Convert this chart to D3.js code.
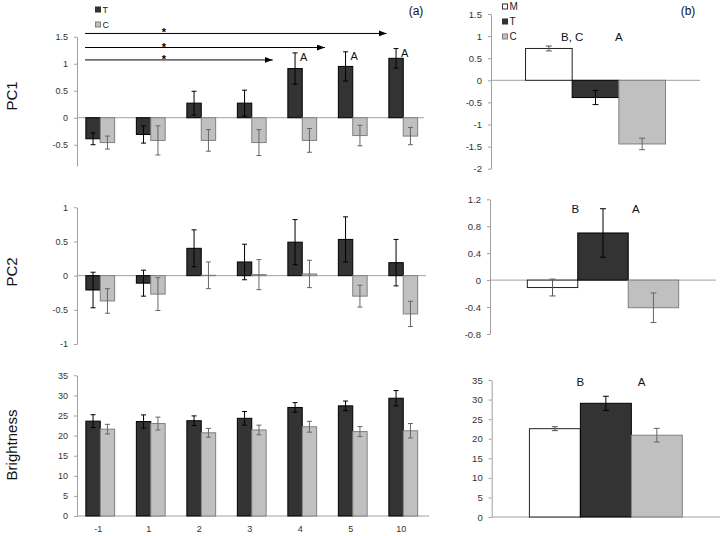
<!DOCTYPE html>
<html>
<head>
<meta charset="utf-8">
<script src="https://cdn.jsdelivr.net/npm/d3@7"></script>
<style>
  body { margin: 0; background: #fff; }
  svg { display: block; font-family: "Liberation Sans", Arial, sans-serif; }
</style>
</head>
<body>
<svg id="chart" width="724" height="536"></svg>
<script>
// ---- data ----
const days = ['-1', '1', '2', '3', '4', '5', '10'];
const groups = ['T', 'C'];
const pooled = ['M', 'T', 'C'];

const pc1T = [-0.39, -0.31, 0.27, 0.27, 0.91, 0.95, 1.10];
const pc1TErr = [0.11, 0.16, 0.22, 0.24, 0.29, 0.27, 0.18];
const pc1C = [-0.46, -0.42, -0.42, -0.46, -0.42, -0.33, -0.34];
const pc1CErr = [0.12, 0.27, 0.20, 0.24, 0.22, 0.19, 0.16];

const pc2T = [-0.21, -0.11, 0.40, 0.20, 0.49, 0.53, 0.19];
const pc2TErr = [0.26, 0.19, 0.27, 0.26, 0.33, 0.33, 0.34];
const pc2C = [-0.37, -0.27, 0.005, 0.015, 0.025, -0.30, -0.56];
const pc2CErr = [0.18, 0.24, 0.195, 0.22, 0.20, 0.16, 0.185];

const brT = [23.6, 23.5, 23.7, 24.3, 27.0, 27.4, 29.3];
const brTErr = [1.6, 1.65, 1.2, 1.7, 1.2, 1.2, 1.9];
const brC = [21.6, 23.0, 20.7, 21.4, 22.2, 21.0, 21.2];
const brCErr = [1.2, 1.6, 1.1, 1.2, 1.35, 1.25, 1.8];

const pc1Pool = [0.72, -0.39, -1.44];
const pc1PoolErr = [0.055, 0.16, 0.13];
const pc2Pool = [-0.11, 0.70, -0.41];
const pc2PoolErr = [0.125, 0.36, 0.22];
const brPool = [22.56, 29.05, 20.9];
const brPoolErr = [0.5, 1.8, 1.75];

const pc1Ticks = [-0.5, 0, 0.5, 1, 1.5];
const pc2Ticks = [-1, -0.5, 0, 0.5, 1];
const brTicks = [0, 5, 10, 15, 20, 25, 30, 35];
const pc1PoolTicks = [-2, -1.5, -1, -0.5, 0, 0.5, 1, 1.5];
const pc2PoolTicks = [-0.8, -0.4, 0, 0.4, 0.8, 1.2];

// significance arrows in PC1 (a): level, start / end in day-index units
const arrowY = [1.56, 1.30, 1.07];
const arrowFrom = [-0.30, -0.30, -0.30];
const arrowTo = [5.67, 4.45, 3.415];
const starAt = 1.26;
const pc1Letters = ['4', '5', '10'];

// letters in (b): label, position in bar units, value
const pc1PoolLetters = [['B, C', 1.0, 0.89], ['A', 2.0, 0.89]];
const pc2PoolLetters = [['B', 0.95, 1.0], ['A', 2.15, 1.0]];
const brPoolLetters = [['B', 1.0, 33.5], ['A', 2.2, 33.5]];

// ---- styles ----
const fill = { M: '#ffffff', T: '#333333', C: '#c0c0c0' };
const edge = { M: '#222222', T: '#000000', C: '#808080' };
const errCol = { M: '#555555', T: '#000000', C: '#666666' };
const axisCol = '#a0a0a0';

const svg = d3.select('#chart');

const x0 = d3.scaleBand().domain(days).range([75, 428.5]);
const x1 = d3.scaleBand().domain(groups)
  .range([x0.bandwidth() * 0.215, x0.bandwidth() * 0.785]);
const xi = d3.scaleLinear().domain([-0.5, 6.5]).range([75, 428.5]);

function yAxis(g, y, ticks, xPos, size) {
  const ax = g.append('g')
    .attr('transform', `translate(${xPos},0)`)
    .call(d3.axisLeft(y).tickValues(ticks).tickSize(3).tickSizeOuter(0).tickPadding(6)
      .tickFormat(d => String(d)));
  ax.select('.domain').attr('stroke', axisCol);
  ax.selectAll('.tick line').attr('stroke', axisCol);
  ax.selectAll('.tick text').attr('fill', '#333').style('font-size', size + 'px')
    .style('font-family', '"Liberation Sans", Arial, sans-serif');
  return ax;
}

function errBars(g, xs, vals, errs, y, color, cap) {
  g.selectAll(null).data(vals).join('path')
    .attr('d', (v, i) => {
      const cx = xs(i), t = y(v + errs[i]), b = y(v - errs[i]);
      return `M${cx},${t}V${b}M${cx - cap},${t}H${cx + cap}M${cx - cap},${b}H${cx + cap}`;
    })
    .attr('fill', 'none').attr('stroke', color).attr('stroke-width', 1);
}

function leftPanel(cfg) {
  const y = d3.scaleLinear().domain(cfg.domain).range(cfg.range);
  const g = svg.append('g');
  g.append('line').attr('x1', 77).attr('x2', cfg.right)
    .attr('y1', y(0)).attr('y2', y(0)).attr('stroke', axisCol);
  yAxis(g, y, cfg.ticks, 77, 9);
  groups.forEach(k => {
    const [vals, errs] = cfg.series[k];
    g.selectAll(null).data(days).join('rect')
      .attr('x', d => x0(d) + x1(k))
      .attr('width', x1.bandwidth())
      .attr('y', (d, i) => y(Math.max(0, vals[i])))
      .attr('height', (d, i) => Math.abs(y(vals[i]) - y(0)))
      .attr('fill', fill[k]).attr('stroke', edge[k]);
  });
  groups.forEach(k => {
    const [vals, errs] = cfg.series[k];
    errBars(g, i => x0(days[i]) + x1(k) + x1.bandwidth() / 2, vals, errs, y, errCol[k], 2.5);
  });
  g.append('text')
    .attr('transform', `translate(17,${cfg.titleY}) rotate(-90)`)
    .attr('text-anchor', 'middle').attr('fill', '#111')
    .style('font-size', '15px').text(cfg.title);
  return { g, y };
}

function rightPanel(cfg) {
  const y = d3.scaleLinear().domain(cfg.domain).range(cfg.range);
  const xb = d3.scaleBand().domain(pooled).range([cfg.left, cfg.right])
    .paddingInner(0).paddingOuter(0.74);
  const xu = d3.scaleLinear().domain([0, 3]).range([xb('M'), xb('C') + xb.bandwidth()]);
  const g = svg.append('g');
  g.append('line').attr('x1', cfg.left).attr('x2', cfg.right)
    .attr('y1', y(0)).attr('y2', y(0)).attr('stroke', axisCol);
  yAxis(g, y, cfg.ticks, cfg.left, 9.5);
  g.selectAll(null).data(pooled).join('rect')
    .attr('x', d => xb(d)).attr('width', xb.bandwidth())
    .attr('y', (d, i) => y(Math.max(0, cfg.vals[i])))
    .attr('height', (d, i) => Math.abs(y(cfg.vals[i]) - y(0)))
    .attr('fill', d => fill[d]).attr('stroke', d => edge[d]);
  pooled.forEach((k, i) => {
    errBars(g, () => xb(k) + xb.bandwidth() / 2, [cfg.vals[i]], [cfg.errs[i]], y, errCol[k], 3);
  });
  g.selectAll(null).data(cfg.letters).join('text')
    .attr('x', d => xu(d[1])).attr('y', d => y(d[2]))
    .attr('text-anchor', 'middle').attr('fill', '#111')
    .style('font-size', '11.5px').text(d => d[0]);
  return { g, y };
}

// ---- (a) panels ----
const p1 = leftPanel({
  domain: [-0.89, 1.5], range: [165.8, 36.7], ticks: pc1Ticks, right: 424,
  series: { T: [pc1T, pc1TErr], C: [pc1C, pc1CErr] }, title: 'PC1', titleY: 96
});
leftPanel({
  domain: [-1, 1], range: [344, 207.3], ticks: pc2Ticks, right: 426,
  series: { T: [pc2T, pc2TErr], C: [pc2C, pc2CErr] }, title: 'PC2', titleY: 272
});
const p3 = leftPanel({
  domain: [0, 35], range: [516, 375.3], ticks: brTicks, right: 429,
  series: { T: [brT, brTErr], C: [brC, brCErr] }, title: 'Brightness', titleY: 445
});

// x labels under the bottom panel
const xa = p3.g.append('g').attr('transform', 'translate(-2,516)')
  .call(d3.axisBottom(x0).tickSize(0).tickPadding(10));
xa.select('.domain').remove();
xa.selectAll('.tick text').attr('fill', '#333').style('font-size', '9px')
  .style('font-family', '"Liberation Sans", Arial, sans-serif');

// arrows and stars
svg.append('defs').append('marker')
  .attr('id', 'head').attr('viewBox', '0 0 8 6').attr('refX', 8).attr('refY', 3)
  .attr('markerWidth', 8).attr('markerHeight', 6).attr('markerUnits', 'userSpaceOnUse')
  .attr('orient', 'auto')
  .append('path').attr('d', 'M0,0L8,3L0,6Z').attr('fill', '#000');

arrowY.forEach((v, i) => {
  p1.g.append('line')
    .attr('x1', xi(arrowFrom[i])).attr('x2', xi(arrowTo[i]))
    .attr('y1', p1.y(v)).attr('y2', p1.y(v))
    .attr('stroke', '#000').attr('marker-end', 'url(#head)');
  p1.g.append('text').attr('x', xi(starAt)).attr('y', p1.y(v) + 3)
    .attr('text-anchor', 'middle').attr('fill', '#000')
    .style('font-size', '11px').style('font-weight', 'bold').text('*');
});

pc1Letters.forEach(d => {
  const i = days.indexOf(d);
  p1.g.append('text')
    .attr('x', x0(d) + x1('T') + x1.bandwidth() / 2 + 5)
    .attr('y', p1.y(pc1T[i] + pc1TErr[i]) + 8)
    .attr('fill', '#111').style('font-size', '11px').text('A');
});

// ---- (b) panels ----
rightPanel({
  domain: [-2, 1.5], range: [168.7, 14], ticks: pc1PoolTicks, left: 491, right: 700,
  vals: pc1Pool, errs: pc1PoolErr, letters: pc1PoolLetters
});
rightPanel({
  domain: [-0.8, 1.2], range: [334, 199.3], ticks: pc2PoolTicks, left: 490, right: 716,
  vals: pc2Pool, errs: pc2PoolErr, letters: pc2PoolLetters
});
rightPanel({
  domain: [0, 35], range: [517, 380], ticks: brTicks, left: 491.7, right: 720,
  vals: brPool, errs: brPoolErr, letters: brPoolLetters
});

// ---- legends and panel tags ----
function legend(x, y0, keys, size) {
  keys.forEach((k, i) => {
    const yy = y0 + i * 15;
    svg.append('rect').attr('x', x).attr('y', yy - 2.5).attr('width', 5).attr('height', 5)
      .attr('fill', fill[k]).attr('stroke', k === 'C' ? '#808080' : '#333');
    svg.append('text').attr('x', x + 7).attr('y', yy + size * 0.36)
      .attr('fill', '#222').style('font-size', size + 'px').text(k);
  });
}
legend(95.5, 9.5, groups, 9);
legend(502.5, 6.5, pooled, 10);

svg.append('text').attr('x', 416).attr('y', 15).attr('text-anchor', 'middle')
  .attr('fill', '#111').style('font-size', '12px').text('(a)');
svg.append('text').attr('x', 688).attr('y', 15).attr('text-anchor', 'middle')
  .attr('fill', '#111').style('font-size', '12px').text('(b)');
</script>
</body>
</html>
